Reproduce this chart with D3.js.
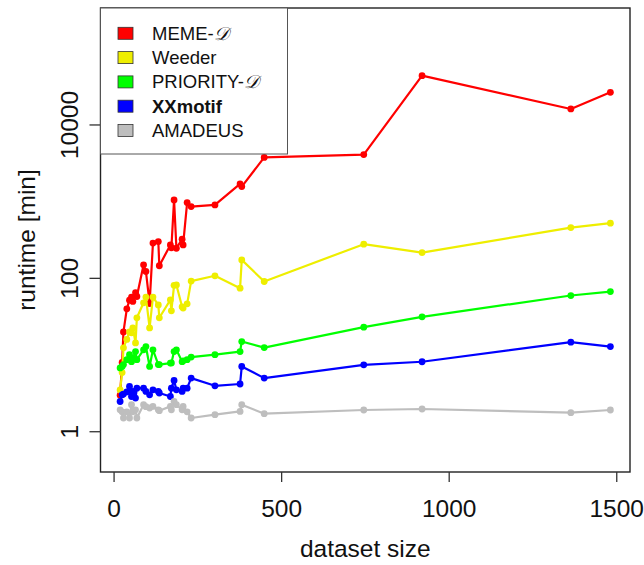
<!DOCTYPE html>
<html lang="en">
<head>
<meta charset="UTF-8">
<title>Runtime vs dataset size</title>
<script src="https://d3js.org/d3.v7.min.js"></script>
<style>
    body { margin: 0; background: #ffffff; }
    svg { display: block; font-family: "Liberation Sans", Arial, sans-serif; }
    .frame { fill: none; stroke: #222; stroke-width: 1.4; }
    .tick-line { stroke: #333; stroke-width: 1.3; }
    .tick-label { font-size: 24.5px; fill: #111; }
    .axis-title { font-size: 24.5px; fill: #111; }
    .legend-box { fill: #fff; stroke: #555; stroke-width: 1; }
    .legend-text { font-size: 18.5px; fill: #111; }
</style>
</head>
<body>
<svg id="chart" width="644" height="565"></svg>
<script>
// dataset sizes (shared by all tools)
const sizes = [18, 24, 28, 38, 46, 52, 56, 64, 68, 88, 95, 106, 116, 132, 135,
               168, 171, 179, 186, 203, 206, 218, 230, 301, 376, 381, 448, 745, 919, 1363, 1481];

// runtimes in minutes
const memeD = [3.0, 8, 20, 40, 52, 57, 50, 65, 58, 150, 123, 47, 288, 302, 146,
               273, 250, 1054, 247, 324, 273, 973, 863, 907, 1703, 1571, 3776, 4106, 43900, 16170, 26680];
const weeder = [3.5, 5.9, 12.4, 16, 20, 19.5, 22.6, 14.4, 30.6, 48, 57, 22.6, 57, 45, 30.6,
                52.5, 37.7, 81, 82, 42.5, 41, 46.5, 92, 108, 74.5, 174, 91, 279, 217, 459, 524];
const priorityD = [6.8, 7.1, 7.5, 8.7, 10.1, 8.2, 9.2, 11.1, 8.7, 11.7, 12.9, 7.1, 11.7, 7.5, 7.5,
                   7.85, 7.9, 11.1, 11.7, 8.2, 8.4, 8.7, 9.4, 10.1, 11.1, 15, 12.5, 23.1, 31.5, 59.7, 67.3];
const xxmotif = [2.48, 3.03, 3.1, 3.3, 3.9, 2.88, 3.35, 2.75, 3.7, 3.7, 3.35, 3.03, 3.52, 3.35, 3.2,
                 2.88, 3.7, 4.66, 3.52, 3.35, 3.7, 3.7, 5.0, 3.97, 4.19, 7.1, 5.0, 7.46, 8.17, 14.7, 12.9];
const amadeus = [1.93, 1.82, 1.51, 1.82, 1.51, 2.25, 1.82, 1.93, 1.51, 2.25, 2.12, 2.04, 2.14, 1.93, 1.88,
                 2.14, 1.93, 2.48, 2.25, 1.93, 2.14, 1.82, 1.51, 1.67, 1.84, 2.25, 1.72, 1.92, 1.98, 1.77, 1.92];

const seriesNames = ["MEME", "Weeder", "PRIORITY", "XXmotif", "AMADEUS"];
const seriesColors = ["#ff0000", "#eeee00", "#00ff00", "#0000ff", "#bebebe"];
const xTicks = [0, 500, 1000, 1500];
const yTicks = [1, 100, 10000];
const yLim = [0.5, 200000];

const svg = d3.select("#chart");
const plotL = 100.5, plotR = 630, plotT = 8, plotB = 472;

// R-style 4% padding
const xr = d3.extent(sizes);
const xpad = (xr[1] - xr[0]) * 0.04;
const x = d3.scaleLinear().domain([xr[0] - xpad, xr[1] + xpad]).range([plotL, plotR]);

const ly = [Math.log10(yLim[0]), Math.log10(yLim[1])];
const ypad = (ly[1] - ly[0]) * 0.04;
const y = d3.scaleLog().domain([10 ** (ly[0] - ypad), 10 ** (ly[1] + ypad)]).range([plotB, plotT]);

// series
const all = [memeD, weeder, priorityD, xxmotif, amadeus];
const line = d3.line().x((d, i) => x(sizes[i])).y(d => y(d));

all.forEach((vals, k) => {
    const g = svg.append("g");
    g.append("path")
        .attr("d", line(vals))
        .attr("fill", "none")
        .attr("stroke", seriesColors[k])
        .attr("stroke-width", 2.2)
        .attr("stroke-linejoin", "round");
    g.selectAll("circle")
        .data(vals)
        .join("circle")
        .attr("cx", (d, i) => x(sizes[i]))
        .attr("cy", d => y(d))
        .attr("r", 3.4)
        .attr("fill", seriesColors[k]);
});

// frame
svg.append("rect")
    .attr("class", "frame")
    .attr("x", plotL).attr("y", plotT)
    .attr("width", plotR - plotL).attr("height", plotB - plotT);

// x axis
xTicks.forEach(t => {
    svg.append("line").attr("class", "tick-line")
        .attr("x1", x(t)).attr("x2", x(t))
        .attr("y1", plotB).attr("y2", plotB + 10);
    svg.append("text").attr("class", "tick-label")
        .attr("x", x(t)).attr("y", plotB + 45)
        .attr("text-anchor", "middle")
        .text(t);
});
svg.append("text").attr("class", "axis-title")
    .attr("x", (plotL + plotR) / 2).attr("y", 557)
    .attr("text-anchor", "middle")
    .text("dataset size");

// y axis
yTicks.forEach(t => {
    svg.append("line").attr("class", "tick-line")
        .attr("x1", plotL - 11).attr("x2", plotL)
        .attr("y1", y(t)).attr("y2", y(t));
    svg.append("text").attr("class", "tick-label")
        .attr("transform", `translate(78,${y(t)}) rotate(-90)`)
        .attr("text-anchor", "middle")
        .text(t);
});
svg.append("text").attr("class", "axis-title")
    .attr("transform", `translate(35,${(plotT + plotB) / 2}) rotate(-90)`)
    .attr("text-anchor", "middle")
    .text("runtime [min]");

// legend
const lg = svg.append("g");
lg.append("rect").attr("class", "legend-box")
    .attr("x", plotL).attr("y", plotT)
    .attr("width", 187).attr("height", 146);

seriesNames.forEach((name, k) => {
    const cy = 33.3 + k * 24.3;
    lg.append("rect")
        .attr("x", 118).attr("y", cy - 6)
        .attr("width", 15).attr("height", 12)
        .attr("fill", seriesColors[k])
        .attr("stroke", "#333").attr("stroke-width", 0.8);
    const t = lg.append("text").attr("class", "legend-text")
        .attr("x", 152).attr("y", cy + 6.3);
    if (k === 0 || k === 2) {
        t.append("tspan").text(name + "-");
        t.append("tspan").attr("font-family", "DejaVu Serif").attr("font-style", "italic").text("\u{1D49F}");
    } else if (k === 3) {
        t.attr("font-weight", "bold").text(name);
    } else {
        t.text(name);
    }
});
</script>
</body>
</html>
